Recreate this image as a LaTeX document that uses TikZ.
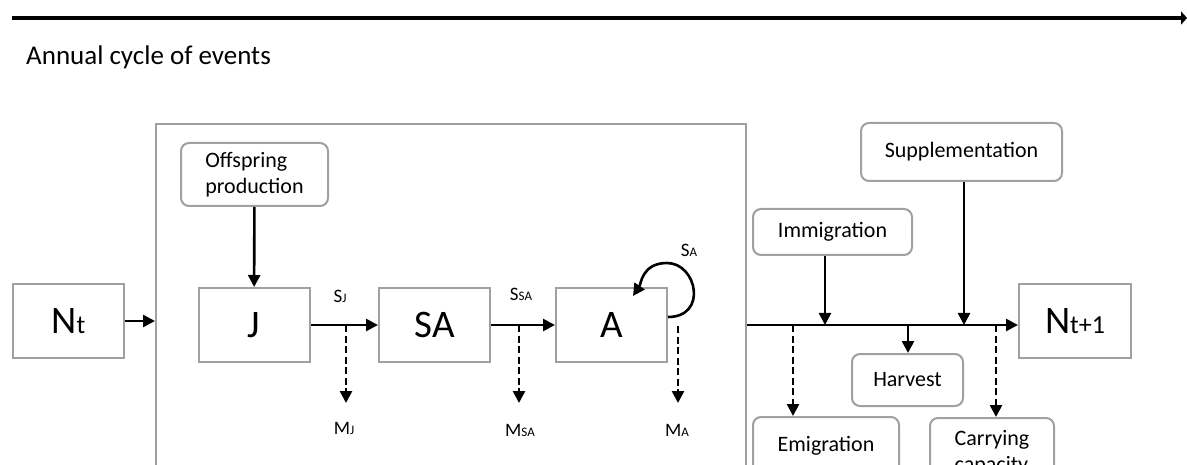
\documentclass[tikz,border=0pt]{standalone}
\usepackage{fontspec}
\setmainfont{Carlito}
\usepackage{xcolor}
\usepackage{tikz}
\usetikzlibrary{arrows.meta}
\usetikzlibrary{positioning}
\definecolor{boxgray}{RGB}{160,160,160}
\newcommand{\stg}[2]{#1{\fontsize{26}{28}\selectfont #2}}
\newcommand{\rte}[2]{#1{\fontsize{13}{14}\selectfont #2}}
\tikzset{
    box/.style = {align=center, inner sep=0pt, text centered, draw=boxgray, line width=2pt},
    stage_node/.style = {box, rectangle, minimum width=111pt, minimum height=74pt, font=\fontsize{39}{40}\selectfont},
    event_node/.style = {box, rectangle, rounded corners=8pt, font=\fontsize{22}{26}\selectfont},
    rate/.style = {inner sep=0pt, font=\fontsize{19}{20}\selectfont},
    flow/.style = {-{Triangle[length=12pt, width=12pt]}, line width=2.6pt},
    loss/.style = {flow, dash pattern=on 7pt off 3.5pt}
}

\begin{document}
\begin{tikzpicture}[x=1pt, y=-1pt]
    \useasboundingbox (0,0) rectangle (1187,465);
    \clip (0,0) rectangle (1187,465);

    % time line
    \coordinate (t0) at (12,18);
    \coordinate (t1) at (1187,18);
    \draw [-{Triangle[length=6pt, width=13pt]}, line width=4pt] (t0) -- (t1);
    \node [anchor=base west, inner sep=0pt, font=\fontsize{27}{30}\selectfont] (title) at (26,65) {Annual cycle of events};

    % stages
    \node [box, minimum width=590pt, minimum height=400pt, anchor=north west] (cycle) at (155,123) {};
    \node [stage_node] (Nt) at (68.5,321) {\stg{N}{t}};
    \node [stage_node] (J) at (254,325) {J};
    \node [stage_node] (SA) at (434.5,325) {SA};
    \node [stage_node] (A) at (611.5,325) {A};
    \node [stage_node, minimum width=112pt] (Nt1) at (1075,321) {\stg{N}{t+1}};

    % events
    \node [event_node, align=left, minimum width=147pt, minimum height=63pt] (offspring) at (254.5,174.5) {Offspring\\production};
    \node [event_node, minimum width=201pt, minimum height=58pt] (supp) at (961.5,152) {Supplementation};
    \node [event_node, minimum width=159pt, minimum height=46pt] (immig) at (832.5,232) {Immigration};
    \node [event_node, minimum width=111pt, minimum height=52pt] (harvest) at (907.5,380) {Harvest};
    \node [event_node, minimum width=146pt, minimum height=58pt, anchor=north] (emig) at (826,416) {Emigration};
    \node [event_node, align=left, minimum width=124pt, minimum height=70pt, anchor=north] (carry) at (992,417) {Carrying\\capacity};

    % rates
    \node [rate] (SJ) at (340,296) {\rte{S}{J}};
    \node [rate] (SSA) at (521,294) {\rte{S}{SA}};
    \node [rate] (SAd) at (689,250) {\rte{S}{A}};
    \node [rate] (MJ) at (344,428) {\rte{M}{J}};
    \node [rate] (MSA) at (520,430) {\rte{M}{SA}};
    \node [rate] (MA) at (677,430) {\rte{M}{A}};

    % survival
    \draw [flow] (Nt) -- (Nt -| cycle.west);
    \draw [flow] (offspring) -- (J);
    \draw [flow] (J) -- (SA);
    \draw [flow] (SA) -- (A);
    \coordinate (loopS) at (668,317);
    \coordinate (loopT) at (667,263);
    \coordinate (loopE) at (633,296);
    \draw [flow] (loopS) .. controls +(40,0) and +(30,0) .. (loopT)
        .. controls +(-25,0) and +(8,-12) .. (loopE);

    % mortality
    \coordinate (sJ) at (346,325);
    \coordinate (dJ) at (346,403);
    \coordinate (sSA) at (519,325);
    \coordinate (dSA) at (519,403);
    \coordinate (sA) at (678,326);
    \coordinate (dA) at (678,403);
    \draw [loss] (sJ) -- (dJ);
    \draw [loss] (sSA) -- (dSA);
    \draw [loss] (sA) -- (dA);

    % after the cycle
    \draw [flow] (A -| cycle.east) -- (A -| Nt1.west);
    \coordinate (jEm) at (793,325);
    \coordinate (jIm) at (825,325);
    \coordinate (jHa) at (908,325);
    \coordinate (jSu) at (964,325);
    \coordinate (jCa) at (996,325);
    \draw [flow] (immig.south -| jIm) -- (jIm);
    \draw [flow] (supp.south -| jSu) -- (jSu);
    \draw [flow] (jHa) -- (jHa |- harvest.north);
    \draw [loss] (jEm) -- (jEm |- emig.north);
    \draw [loss] (jCa) -- (jCa |- carry.north);
\end{tikzpicture}
\end{document}
